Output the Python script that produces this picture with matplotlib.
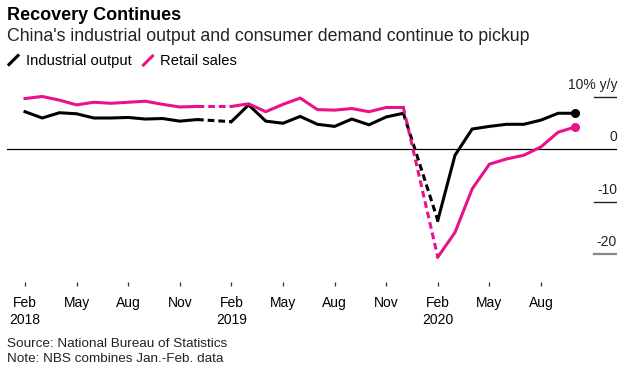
import matplotlib
matplotlib.use('Agg')
import matplotlib.pyplot as plt
from matplotlib.lines import Line2D

plt.rcParams['font.family'] = ['Liberation Sans', 'DejaVu Sans']

# Monthly y/y growth (%), NBS publishes Jan-Feb combined so each year starts in Feb
ip_2018 = [7.2, 6.0, 7.0, 6.8, 6.0, 6.0, 6.1, 5.8, 5.9, 5.4, 5.7]
ip_2019 = [5.3, 8.5, 5.4, 5.0, 6.3, 4.8, 4.4, 5.8, 4.7, 6.2, 6.9]
ip_2020 = [-13.5, -1.1, 3.9, 4.4, 4.8, 4.8, 5.6, 6.9, 6.9]

rs_2018 = [9.7, 10.1, 9.4, 8.5, 9.0, 8.8, 9.0, 9.2, 8.6, 8.1, 8.2]
rs_2019 = [8.2, 8.7, 7.2, 8.6, 9.8, 7.6, 7.5, 7.8, 7.2, 8.0, 8.0]
rs_2020 = [-20.5, -15.8, -7.5, -2.8, -1.8, -1.1, 0.5, 3.3, 4.3]

years = [2018, 2019, 2020]
tick_labels = ['Feb\n2018', 'May', 'Aug', 'Nov', 'Feb\n2019', 'May', 'Aug', 'Nov',
               'Feb\n2020', 'May', 'Aug']
y_ticks = [10, -10, -20]
y_labels = ['10% y/y', '0', '-10', '-20']

PINK = '#e9128b'
W, H = 633, 371


def fx(px):
    return px / W


def fy(px):
    return 1 - px / H


def month_index(year, i):
    # months since Feb 2018; i = 0 is Feb of that year
    return (year - 2018) * 12 + i


fig = plt.figure(figsize=(W / 100, H / 100), dpi=100)
ax = fig.add_axes([fx(7), fy(282), fx(617) - fx(7), fy(75) - fy(282)])

for series, color in [((ip_2018, ip_2019, ip_2020), 'black'),
                      ((rs_2018, rs_2019, rs_2020), PINK)]:
    prev = None
    for year, vals in zip(years, series):
        xs = [month_index(year, i) for i in range(len(vals))]
        ax.plot(xs, vals, color=color, lw=2.2, solid_joinstyle='miter', zorder=3)
        if prev is not None:
            # Jan gap: dashed link from previous December
            ax.plot([prev[0], xs[0]], [prev[1], vals[0]], color=color, lw=2.2,
                    dashes=(2.2, 1.3), zorder=3)
        prev = (xs[-1], vals[-1])
    ax.plot(prev[0], prev[1], 'o', color=color, ms=5.5, zorder=4)

ax.axhline(0, color='black', lw=0.9, zorder=2)
for v in y_ticks:
    if v == -20:
        ax.axhline(v, xmin=1 - 23 / 610, xmax=1, color='#888888', lw=1.6)
    else:
        ax.axhline(v, xmin=1 - 23 / 610, xmax=1, color='#222222', lw=1)
for v, lab in zip([10, 0, -10, -20], y_labels):
    ax.annotate(lab, xy=(1, v), xycoords=('axes fraction', 'data'),
                xytext=(0, 6), textcoords='offset points',
                ha='right', va='baseline', fontsize=10, color='#222222')

ax.set_xlim(-1.047, 34.42)
ax.set_ylim(-25.24, 14.19)
ax.set_xticks(range(0, 31, 3))
ax.set_xticklabels(tick_labels, fontsize=10, linespacing=1.3)
ax.set_yticks([])
ax.tick_params(axis='x', length=3, width=0.9, color='#333333', pad=7)
for s in ax.spines.values():
    s.set_visible(False)

# Titles
fig.text(fx(7), fy(19.5), 'Recovery Continues', fontsize=13, fontweight='bold',
         va='baseline', ha='left')
fig.text(fx(7), fy(40.7), "China's industrial output and consumer demand continue to pickup",
         fontsize=12.75, va='baseline', ha='left', color='#222222')

# Legend
fig.add_artist(Line2D([fx(9), fx(18)], [fy(64.5), fy(55.5)], color='black', lw=2.2,
                      transform=fig.transFigure))
fig.text(fx(26), fy(65), 'Industrial output', fontsize=10.6, va='baseline')
fig.add_artist(Line2D([fx(143.5), fx(152.5)], [fy(65), fy(56)], color=PINK, lw=2.2,
                      transform=fig.transFigure))
fig.text(fx(160), fy(65), 'Retail sales', fontsize=10.6, va='baseline')

# Footnotes
fig.text(fx(7), fy(346.7), 'Source: National Bureau of Statistics', fontsize=9.7,
         va='baseline', color='#222222')
fig.text(fx(7), fy(361.7), 'Note: NBS combines Jan.-Feb. data', fontsize=9.7,
         va='baseline', color='#222222')

fig.savefig('out.png', dpi=100)
